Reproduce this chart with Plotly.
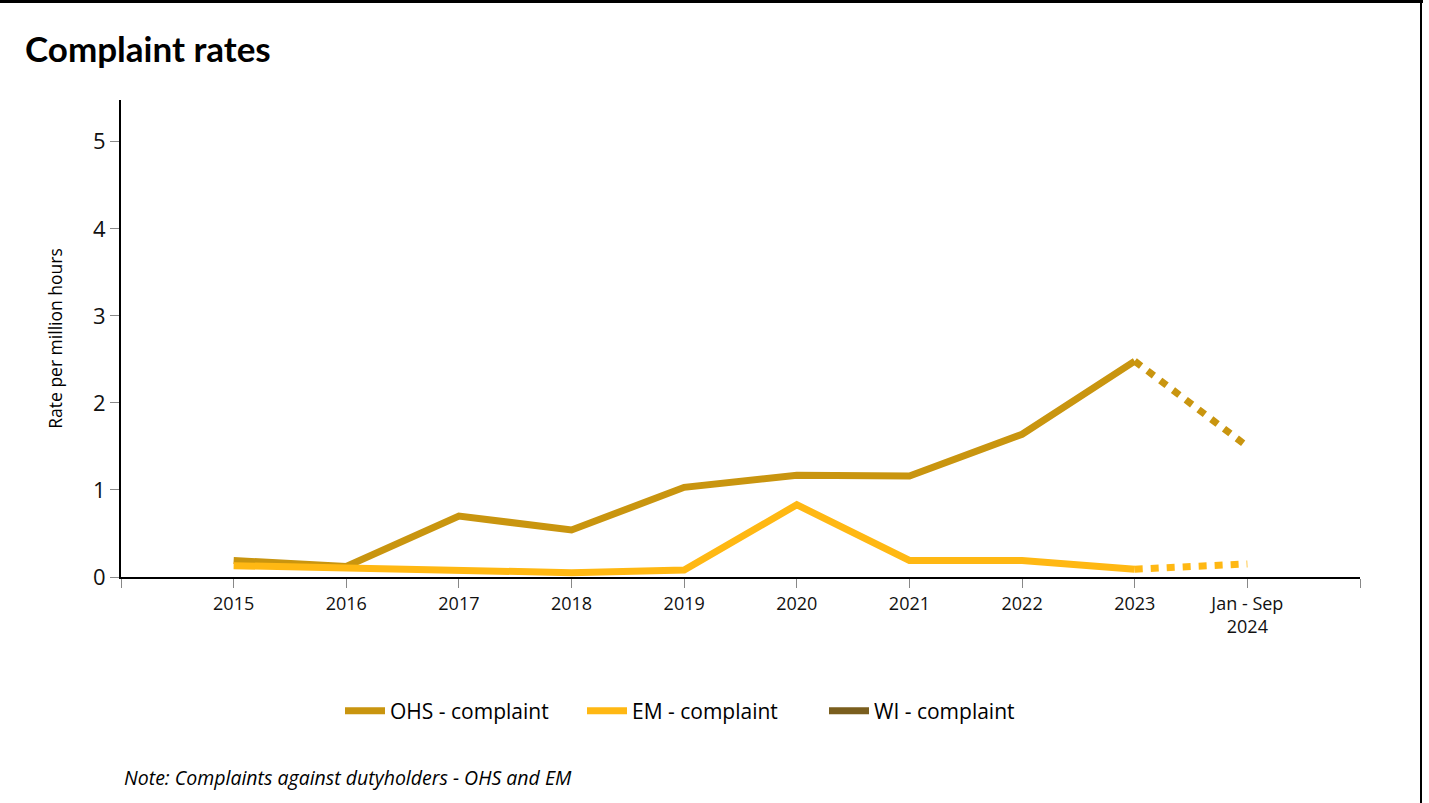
import plotly.graph_objects as go

years = [2015, 2016, 2017, 2018, 2019, 2020, 2021, 2022, 2023, 2024]
tick_vals = [2014, 2015, 2016, 2017, 2018, 2019, 2020, 2021, 2022, 2023, 2024, 2025]
tick_text = ["", "2015", "2016", "2017", "2018", "2019", "2020", "2021", "2022", "2023", "Jan - Sep<br>2024", ""]

ohs_complaint = [0.19, 0.12, 0.70, 0.54, 1.03, 1.17, 1.16, 1.64, 2.48, 1.50]
em_complaint = [0.13, 0.11, 0.07, 0.05, 0.08, 0.83, 0.19, 0.19, 0.09, 0.15]
wi_complaint = []

C_OHS = "#C9950F"
C_EM = "#FFB813"
C_WI = "#7A5E1E"

fig = go.Figure()

def add_series(name, vals, color):
    # solid part (full years)
    fig.add_trace(go.Scatter(x=years[:-1], y=vals[:-1], mode="lines", name=name,
                             line=dict(color=color, width=7), legendgroup=name,
                             hoverinfo="skip"))
    # dotted part (partial year)
    fig.add_trace(go.Scatter(x=years[-2:], y=vals[-2:], mode="lines", name=name,
                             line=dict(color=color, width=7, dash="8px,8px"),
                             legendgroup=name, showlegend=False, hoverinfo="skip"))

add_series("OHS - complaint", ohs_complaint, C_OHS)
add_series("EM - complaint", em_complaint, C_EM)
fig.add_trace(go.Scatter(x=[None], y=[None], mode="lines", name="WI - complaint",
                         line=dict(color=C_WI, width=7)))

L, T, PW, PH = 121, 100, 1239, 477

def px(x):
    return (x - L) / PW

def py(y):
    return (T + PH - y) / PH

fig.update_layout(
    width=1429, height=803,
    margin=dict(l=121, r=69, t=100, b=226),
    paper_bgcolor="white", plot_bgcolor="white",
    font=dict(family="Open Sans, Lato, sans-serif", color="#000000"),
    showlegend=True,
    legend=dict(orientation="h", x=px(703), xanchor="center", y=py(711), yanchor="middle",
                font=dict(size=21, family="Open Sans, sans-serif"), itemwidth=40,
                entrywidth=187, entrywidthmode="pixels",
                tracegroupgap=0, traceorder="normal"),
    xaxis=dict(range=[2014, 2025], tickmode="array", tickvals=tick_vals, ticktext=tick_text,
               showgrid=False, zeroline=False, showline=True, linecolor="black", linewidth=2,
               ticks="outside", ticklen=9, tickcolor="#888888", tickwidth=1,
               tickfont=dict(size=18, color="#111111")),
    yaxis=dict(range=[0, 5.48], tickvals=[0, 1, 2, 3, 4, 5], showgrid=False, zeroline=False,
               showline=True, linecolor="black", linewidth=2,
               ticks="outside", ticklen=9, tickcolor="#888888", tickwidth=1,
               tickfont=dict(size=22, color="#111111"),
               title=dict(text="Rate per million hours", font=dict(size=17.5), standoff=26)),
    annotations=[
        dict(text="<b>Complaint rates</b>", xref="paper", yref="paper",
             x=px(23), y=py(48), xanchor="left", yanchor="middle",
             showarrow=False, font=dict(size=35, family="Lato, Open Sans, sans-serif", color="black")),
        dict(text="<i>Note: Complaints against dutyholders - OHS and EM</i>", xref="paper", yref="paper",
             x=px(122), y=py(777), xanchor="left", yanchor="middle",
             showarrow=False, font=dict(size=19.5, family="Open Sans, sans-serif", color="black")),
    ],
    shapes=[
        dict(type="line", xref="paper", yref="paper", x0=px(0), x1=px(1423),
             y0=py(1.5), y1=py(1.5), line=dict(color="black", width=3)),
        dict(type="line", xref="paper", yref="paper", x0=px(1421), x1=px(1421),
             y0=py(0), y1=py(803), line=dict(color="black", width=2)),
    ],
)

fig.write_html("out.html", config={"displayModeBar": False},
               post_script="document.body.style.margin='0';document.body.style.overflow='hidden';")
